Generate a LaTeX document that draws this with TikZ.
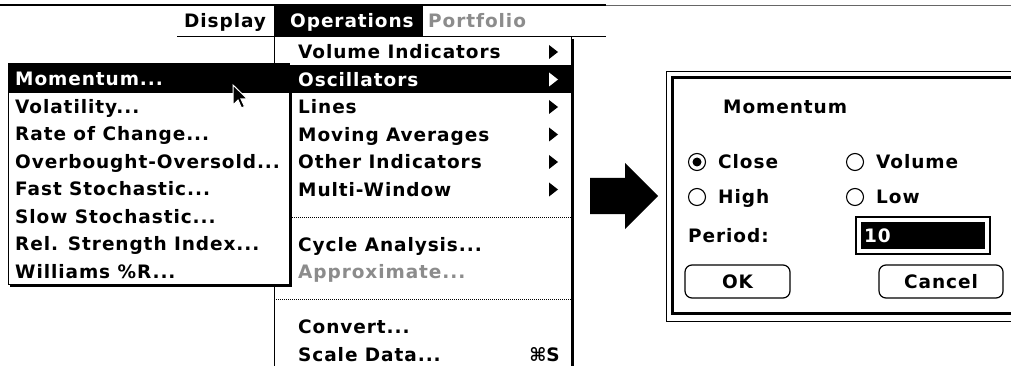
\documentclass[tikz,border=0pt]{standalone}
\usepackage{fontspec}
\usetikzlibrary{positioning}
\newfontfamily\chifont[LetterSpace=5]{DejaVu Sans}
\newfontfamily\symfont{DejaVu Sans}
\newcommand{\mfont}{\chifont\bfseries\fontsize{18.5}{21}\selectfont}
\newcommand{\ddd}{...}
\tikzset{
  item/.style={font=\mfont, anchor=west, inner sep=0pt, text height=13.5pt, text depth=0pt},
  dimitem/.style={item, text=black!45},
  hiitem/.style={item, text=white},
  sepline/.style={line width=1pt, dash pattern=on 1pt off 1pt},
  radio/.style={draw, line width=1.1pt},
  button/.style={draw, line width=1.2pt, rounded corners=7pt, font=\mfont, inner sep=0pt,
    text height=13.5pt, text depth=0pt, minimum height=33pt},
}

\begin{document}
\begin{tikzpicture}[x=1pt,y=-1pt]
        \clip (0,0) rectangle (1011,366);
        % menu bar
        \draw[line width=2pt] (0,5) -- (606,5);
        \draw[black!60, line width=0.8pt] (606,5) -- (1011,5);
        \fill (274,5) rectangle (423,37);
        \draw[line width=1pt] (177,37) -- (274,37);
        \draw[line width=1pt] (423,37) -- (606,37);
        \node[item] (display) at (184,21) {Display};
        \node[hiitem] (operations) at (290,21) {Operations};
        \node[dimitem] (portfolio) at (428,21) {Portfolio};

        % operations menu
        \draw[fill=white, line width=1pt] (274,37) rectangle (571,372);
        \draw[line width=2pt] (572.5,39) -- (572.5,372);
        \fill (274,65) rectangle (571,93);
        \foreach \sty/\col/\txt [count=\i from 0] in {item/black/Volume Indicators, hiitem/white/Oscillators,
            item/black/Lines, item/black/Moving Averages, item/black/Other Indicators, item/black/Multi-Window}{
            \pgfmathsetmacro{\yy}{52+27.5*\i}
            \node[\sty] (op\i) at (298,\yy) {\txt};
            \fill[\col] (549,\yy-7) -- (558,\yy) -- (549,\yy+7) -- cycle;
        }
        \draw[sepline] (274,217) -- (571,217);
        \node[item] (cycle) at (298,244.5) {Cycle Analysis\ddd};
        \node[dimitem] (approx) at (298,272) {Approximate\ddd};
        \draw[sepline] (274,299.5) -- (571,299.5);
        \node[item] (convert) at (298,327) {Convert\ddd};
        \node[item] (scale) at (298,354.5) {Scale Data\ddd};
        \node[item, anchor=east] (cmdkey) at (560,354.5) {{\symfont ⌘}S};

        % oscillators submenu
        \draw[fill=white, line width=1pt] (8,64) rectangle (289,284);
        \draw[line width=2pt] (290.5,66) -- (290.5,285.5) -- (10,285.5);
        \fill (8,64) rectangle (289,93);
        \foreach \sty/\txt [count=\i from 0] in {hiitem/Momentum\ddd, item/Volatility\ddd, item/Rate of Change\ddd,
            item/Overbought-Oversold\ddd, item/Fast Stochastic\ddd, item/Slow Stochastic\ddd,
            item/Rel. Strength Index\ddd, item/Williams \%R\ddd}{
            \node[\sty] (osc\i) at (15,{79+27.5*\i}) {\txt};
        }
        \draw[white, fill=black, line width=1pt, line join=miter] (233,85) -- (233,105) -- (238,100)
            -- (241.5,108) -- (244.5,106.5) -- (241,99) -- (247.5,99) -- cycle;

        % big arrow
        \fill (590,178) -- (625,178) -- (625,163) -- (658,196) -- (625,229) -- (625,214) -- (590,214) -- cycle;

        % dialog
        \draw[fill=white, line width=1pt] (666,72) rectangle (1030,321);
        \draw[line width=3pt] (672,77.5) rectangle (1018,313.5);
        \node[item] (title) at (723,107) {Momentum};
        \draw[radio] (697,162) circle[radius=8.5pt];
        \fill (697,162) circle[radius=4.5pt];
        \draw[radio] (855,162) circle[radius=8.5pt];
        \draw[radio] (697,197) circle[radius=8.5pt];
        \draw[radio] (855,197) circle[radius=8.5pt];
        \node[item] (close) at (718,162) {Close};
        \node[item] (volume) at (876,162) {Volume};
        \node[item] (high) at (718,197) {High};
        \node[item] (low) at (876,197) {Low};
        \node[item] (periodlbl) at (688,235.5) {Period:};
        \draw[line width=1.2pt] (856,217) rectangle (990,254);
        \fill (861,222) rectangle (985,249);
        \node[hiitem] (period) at (864,235.5) {10};
        \node[button, minimum width=105pt] (ok) at (737.5,281.5) {OK};
        \node[button, minimum width=124pt] (cancel) at (941,281.5) {Cancel};
\end{tikzpicture}
\end{document}
